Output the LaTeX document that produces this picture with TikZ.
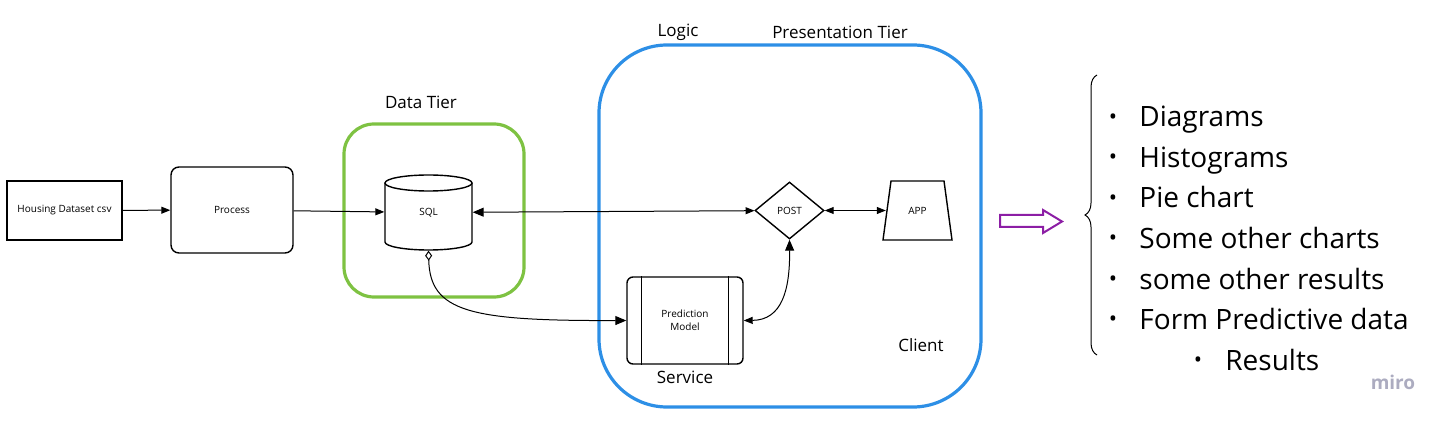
\documentclass[tikz,border=0pt]{standalone}
\usepackage{fontspec}
\setmainfont{Open Sans}
\usetikzlibrary{arrows.meta, positioning, shapes.geometric, decorations.pathreplacing}

\definecolor{tiergreen}{RGB}{126,194,66}
\definecolor{tierblue}{RGB}{45,143,230}
\definecolor{arrowpurple}{RGB}{140,30,165}
\definecolor{mirogrey}{RGB}{172,172,192}

\tikzset{
  box/.style={draw, line width=0.7pt, inner sep=0pt, align=center,
    font=\fontsize{5}{6.5}\selectfont},
  tierbox/.style={draw=#1, line width=1.6pt, inner sep=0pt},
  tierlabel/.style={inner sep=0pt, font=\fontsize{8.5}{10}\selectfont},
  listitem/.style={anchor=base west, inner sep=0pt, font=\fontsize{14}{16}\selectfont},
  listbullet/.style={inner sep=0pt, font=\fontsize{11}{12}\selectfont},
  link/.style={line width=0.5pt},
  tipsmall/.tip={Triangle[length=4.5pt, width=3.5pt]},
  tipbig/.tip={Triangle[length=5.5pt, width=4.5pt]}
}

\begin{document}
\begin{tikzpicture}[x=0.5pt, y=-0.5pt]
      \useasboundingbox (0,0) rectangle (1450,422);

      % Draw the tier boxes
      \node[tierbox=tiergreen, rounded corners=15pt, minimum width=90pt, minimum height=86.5pt] (datatier) at (434,210.5) {};
      \node[tierbox=tierblue, rounded corners=34pt, minimum width=191pt, minimum height=181pt] (client) at (790,226) {};

      \node[tierlabel] (datalabel) at (421,102) {Data Tier};
      \node[tierlabel] (logiclabel) at (678,32) {Logic};
      \node[tierlabel] (preslabel) at (840,32) {Presentation Tier};
      \node[tierlabel] (servicelabel) at (685,377) {Service};
      \node[tierlabel] (clientlabel) at (921,345) {Client};

      % Draw the boxes
      \node[box, minimum width=57.5pt, minimum height=29.5pt] (csv) at (64.5,210.5) {Housing Dataset csv};
      \node[box, rounded corners=4pt, minimum width=61pt, minimum height=43pt] (proc) at (232,210) {Process};
      \node[box, draw=none, minimum width=43.5pt, minimum height=37.5pt] (sql) at (428.5,212.5) {SQL};
      \node[box, diamond, minimum width=34.5pt, minimum height=28.5pt] (post) at (789.5,210.5) {POST};
      \node[box, draw=none, minimum width=31pt, minimum height=29.5pt] (app) at (917.5,210.5) {APP};
      \node[box, rounded corners=3pt, minimum width=58pt, minimum height=43.5pt] (pm) at (685,320.5) {Prediction\\Model};

      % Draw the cylinder round SQL
      \draw[line width=0.7pt] (385,183) -- (385,242) arc[start angle=180, end angle=0, x radius=43.5, y radius=8] -- (472,183);
      \draw[line width=0.7pt] (428.5,183) ellipse [x radius=43.5, y radius=8];

      % Draw the trapezium round APP
      \draw[line width=0.7pt] (891,181) -- (944,181) -- (952,240) -- (883,240) -- cycle;

      % Draw the side bars of the model box
      \draw[line width=0.7pt] ([xshift=7.5pt]pm.north west) -- ([xshift=7.5pt]pm.south west);
      \draw[line width=0.7pt] ([xshift=-7.5pt]pm.north east) -- ([xshift=-7.5pt]pm.south east);

      % Draw the connectors
      \draw[link, -{tipsmall}] (csv) -- (proc);
      \draw[link, -{tipsmall}] (proc) -- (sql);
      \draw[link, {tipbig}-{tipsmall}] (sql) -- (post);
      \draw[link, {tipsmall}-{tipsmall}] (post) -- (app);
      \draw[link, {Diamond[open, length=5pt, width=3.5pt]}-{tipbig}] (sql.south) .. controls (430,312) and (470,321) .. (pm.west);
      \draw[link, {tipsmall}-{tipbig}] (pm.east) .. controls (782,320) and (790,290) .. (post.south);

      % Draw the hollow arrow
      \draw[arrowpurple, line width=1pt] (1000,215) -- (1043,215) -- (1043,210) -- (1062,221.5) -- (1043,233) -- (1043,227) -- (1000,227) -- cycle;

      % Draw the brace and the list
      \draw[line width=0.5pt, decorate, decoration={brace, amplitude=6pt}] (1097,355) -- (1097,75);

      \node[listbullet] at (1113,119) {•};
      \node[listitem] (diagrams) at (1139,127) {Diagrams};
      \node[listbullet] at (1113,159.5) {•};
      \node[listitem] (histograms) at (1139,167.5) {Histograms};
      \node[listbullet] at (1113,200) {•};
      \node[listitem] (pie) at (1139,208) {Pie chart};
      \node[listbullet] at (1113,240.5) {•};
      \node[listitem] (charts) at (1139,248.5) {Some other charts};
      \node[listbullet] at (1113,281) {•};
      \node[listitem] (results) at (1139,289) {some other results};
      \node[listbullet] at (1113,321.5) {•};
      \node[listitem] (form) at (1139,329.5) {Form Predictive data};
      \node[listbullet] at (1198,362) {•};
      \node[listitem] (subresults) at (1225,370) {Results};

      \node[inner sep=0pt, text=mirogrey, font=\fontsize{9.5}{11}\selectfont\bfseries] (miro) at (1393,382) {miro};
\end{tikzpicture}
\end{document}
